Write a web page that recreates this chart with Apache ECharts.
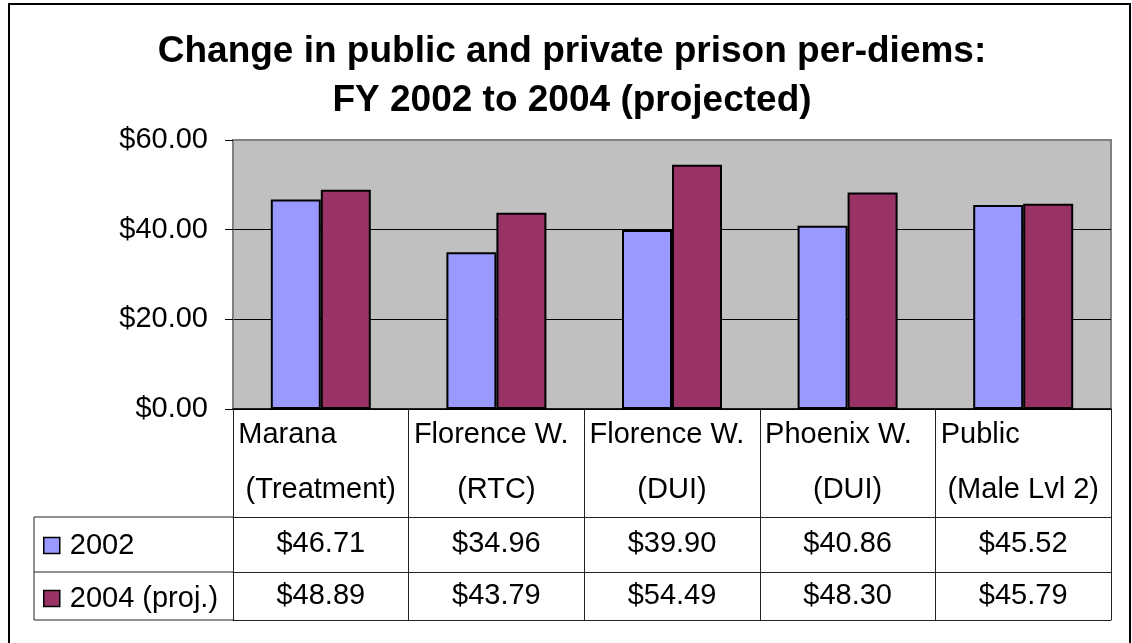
<!DOCTYPE html>
<html>
<head>
<meta charset="utf-8">
<title>Prison per-diems</title>
<script src="https://cdn.jsdelivr.net/npm/echarts@6/dist/echarts.min.js"></script>
<style>
  html, body { margin: 0; padding: 0; background: #fff; }
  #chart { width: 1132px; height: 643px; }
</style>
</head>
<body>
<div id="chart"></div>
<script>
// Per-diem chart with an Excel-style data table underneath.
// Table cells are drawn by extra x axes stacked under the plot (offset), so every
// number comes straight from the arrays below.

const TITLE = "Change in public and private prison per-diems:\nFY 2002 to 2004 (projected)";
const FACILITY_NAMES = ["Marana", "Florence W.", "Florence W.", "Phoenix W.", "Public"];
const FACILITY_TYPES = ["(Treatment)", "(RTC)", "(DUI)", "(DUI)", "(Male Lvl 2)"];
const SERIES_NAMES   = ["2002", "2004 (proj.)"];
const PERDIEM_2002   = [46.71, 34.96, 39.90, 40.86, 45.52];
const PERDIEM_2004   = [48.89, 43.79, 54.49, 48.30, 45.79];
const Y_MIN = 0, Y_MAX = 60, Y_STEP = 20;

const FONT   = "'Liberation Sans', Arial, Helvetica, sans-serif";
const FS     = 29;
const COLORS = ["#9999ff", "#993366"];
const LINE   = "#222";

// layout (px)
const W = 1132, H = 643;
const PLOT_L = 233, PLOT_R = 1111, PLOT_T = 140, PLOT_B = 409;
const HEAD_H = 108, ROW1_H = 55, ROW2_H = 48;
const TABLE_L = 34;

const money = v => "$" + v.toFixed(2);
const catKeys = FACILITY_NAMES.map((n, i) => n + " " + FACILITY_TYPES[i]);

function tableAxis(data, offset, tickLen, labelMargin, showLabel) {
  return {
    type: "category", gridIndex: 0, position: "bottom", offset,
    data, boundaryGap: true,
    axisLine: { show: true, lineStyle: { color: LINE, width: 1 } },
    axisTick: { show: tickLen > 0, interval: 0, length: tickLen, lineStyle: { color: LINE, width: 1 } },
    axisLabel: { show: showLabel, interval: 0, margin: labelMargin, color: "#000",
                 fontFamily: FONT, fontSize: FS, lineHeight: 28 },
    splitLine: { show: false },
  };
}

const chart = echarts.init(document.getElementById("chart"), null, { renderer: "canvas" });

const headAxis = {
  type: "category", gridIndex: 0, position: "bottom", data: catKeys, boundaryGap: true,
  axisLine: { show: true, lineStyle: { color: "#000", width: 1.5 } },
  axisTick: { show: true, interval: 0, length: HEAD_H, lineStyle: { color: LINE, width: 1 } },
  axisLabel: {
    interval: 0, margin: -2, color: "#000",
    formatter: (v, i) => `{a|${FACILITY_NAMES[i]}}\n{b|${FACILITY_TYPES[i]}}`,
    rich: {
      a: { width: 165, align: "left",   fontFamily: FONT, fontSize: FS, lineHeight: 55, color: "#000" },
      b: { width: 165, align: "center", fontFamily: FONT, fontSize: FS, lineHeight: 55, color: "#000" },
    },
  },
  splitLine: { show: false },
};

// left legend column frame (the value columns are framed by the axes themselves)
const rowY = [PLOT_B + HEAD_H, PLOT_B + HEAD_H + ROW1_H, PLOT_B + HEAD_H + ROW1_H + ROW2_H];
const frameStyle = { stroke: LINE, lineWidth: 1 };
const graphic = [
  { type: "rect", silent: true, shape: { x: 9, y: 4, width: 1121, height: 700 },
    style: { fill: null, stroke: "#000", lineWidth: 2 } },
  ...rowY.map(y => ({ type: "line", silent: true,
    shape: { x1: TABLE_L, y1: y, x2: PLOT_L, y2: y }, style: frameStyle })),
  { type: "line", silent: true,
    shape: { x1: TABLE_L, y1: rowY[0], x2: TABLE_L, y2: rowY[2] }, style: frameStyle },
];

chart.setOption({
  backgroundColor: "#fff",
  animation: false,
  title: {
    text: TITLE, left: 567, top: 22, textAlign: "center",
    textStyle: { fontFamily: FONT, fontSize: 37, fontWeight: "bold", lineHeight: 49, color: "#000" },
  },
  legend: {
    orient: "vertical", left: 38, top: rowY[0] + 9,
    data: SERIES_NAMES, icon: "rect", itemWidth: 16, itemHeight: 16, itemGap: 24,
    itemStyle: { borderColor: "#000", borderWidth: 1.5 },
    textStyle: { fontFamily: FONT, fontSize: FS, lineHeight: 28, color: "#000", padding: [0, 0, 0, 5] },
    selectedMode: false,
  },
  grid: {
    left: PLOT_L, right: W - PLOT_R, top: PLOT_T, bottom: H - PLOT_B,
    show: true, backgroundColor: "#c0c0c0", borderColor: "#808080", borderWidth: 2,
    containLabel: false, outerBoundsMode: "none",
  },
  xAxis: [
    headAxis,
    tableAxis(PERDIEM_2002.map(money), HEAD_H, ROW1_H, 13, true),
    tableAxis(PERDIEM_2004.map(money), HEAD_H + ROW1_H, ROW2_H, 10, true),
    tableAxis(catKeys, HEAD_H + ROW1_H + ROW2_H, 0, 0, false),
  ],
  yAxis: {
    type: "value", min: Y_MIN, max: Y_MAX, interval: Y_STEP,
    axisLine: { show: true, lineStyle: { color: "#808080", width: 1.5 } },
    axisTick: { show: true, length: 8, lineStyle: { color: "#000" } },
    axisLabel: { margin: 25, color: "#000", fontFamily: FONT, fontSize: FS, formatter: money },
    splitLine: { show: true, showMaxLine: false, lineStyle: { color: "#000", width: 1 } },
  },
  series: [
    { name: SERIES_NAMES[0], type: "bar", data: PERDIEM_2002, barWidth: 50, barGap: "0%",
      itemStyle: { color: COLORS[0], borderColor: "#000", borderWidth: 2 } },
    { name: SERIES_NAMES[1], type: "bar", data: PERDIEM_2004, barWidth: 50, barGap: "0%",
      itemStyle: { color: COLORS[1], borderColor: "#000", borderWidth: 2 } },
  ],
  graphic,
});
</script>
</body>
</html>
